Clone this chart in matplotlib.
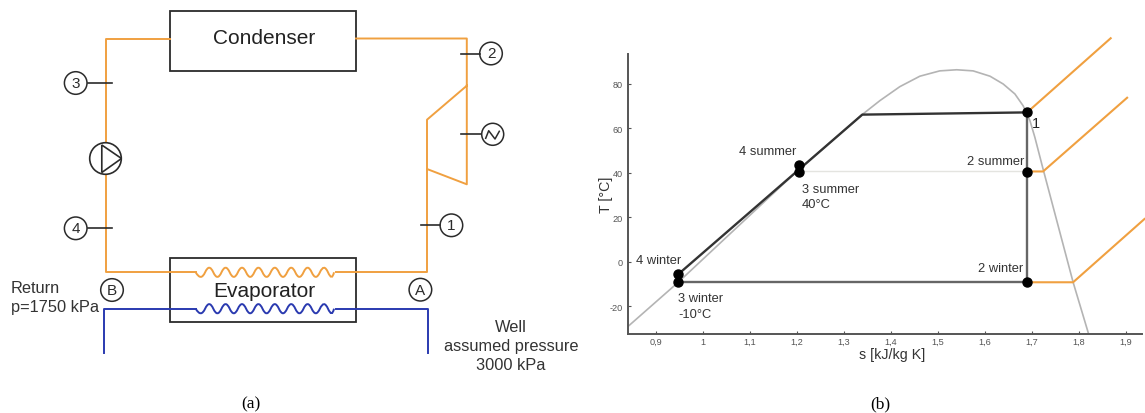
import matplotlib
matplotlib.use('Agg')
import matplotlib.pyplot as plt
from matplotlib.patches import Rectangle, Circle, Polygon, PathPatch
from matplotlib.path import Path

plt.rcParams['font.family'] = ['Liberation Sans', 'DejaVu Sans']
plt.rcParams['axes.unicode_minus'] = False

ORANGE = '#f0a040'
BLUE = '#2a3ab0'
DARK = '#2b2b2b'
GREY = '#b4b4b4'

# T-s diagram
sat_s = [0.84, 0.947, 1.205, 1.3375, 1.3765, 1.419, 1.4616, 1.504, 1.54, 1.575, 1.611, 1.639, 1.664, 1.6815, 1.696, 1.7065, 1.724, 1.788, 1.821]
sat_T = [-29.2, -9.3, 41.7, 66, 72.5, 78.8, 83.5, 85.9, 86.4, 85.9, 83.5, 80, 75.5, 70.2, 63.5, 56, 41.7, -9.3, -32.6]
cycle_s = [0.947, 1.339, 1.69, 1.69, 0.947]
cycle_T = [-5.7, 66.2, 67.2, -9.3, -9.3]
summer_s = [1.205, 1.69]
summer_T = [40.6, 40.6]
point_s = [1.69, 1.69, 1.69, 1.204, 1.205, 0.947, 0.947]
point_T = [67.2, 40.2, -9.3, 43.5, 40.2, -5.7, -9.3]
sup1_s = [1.69, 1.868]
sup1_T = [67.2, 100.6]
sup2_s = [1.69, 1.724, 1.903]
sup2_T = [40.6, 40.6, 73.8]
sup3_s = [1.69, 1.788, 1.94]
sup3_T = [-9.3, -9.3, 19.2]
xticks = [0.9, 1, 1.1, 1.2, 1.3, 1.4, 1.5, 1.6, 1.7, 1.8, 1.9]
xlabels = ['0,9', '1', '1,1', '1,2', '1,3', '1,4', '1,5', '1,6', '1,7', '1,8', '1,9']
yticks = [-20, 0, 20, 40, 60, 80]

# schematic, in picture pixels
loop_x = [170, 105.7, 105.7, 196]
loop_y = [39.5, 39.5, 273.3, 273.3]
right_x = [356, 466.8, 466.8, 427, 427, 466.8, 466.8]
right_y = [39.5, 39.5, 86.7, 120.7, 170, 185.3, 86.7]
lower_x = [427, 427, 336]
lower_y = [170, 273.3, 273.3]
well_left_x = [104, 104, 196]
well_left_y = [353.5, 309.7, 309.7]
well_right_x = [336, 427.5, 427.5]
well_right_y = [309.7, 309.7, 353.5]
coil_x = [201, 209.2, 217.4, 225.6, 233.8, 242, 250.2, 258.4, 266.6, 274.8, 283, 291.2, 299.4, 307.6, 315.8, 324, 332]
coil_side = [1, -1, 1, -1, 1, -1, 1, -1, 1, -1, 1, -1, 1, -1, 1, -1, 1]
tag_names = ['3', '4', '2', '1', 'B', 'A']
tag_x = [75.7, 75.7, 491, 451.4, 112, 420.4]
tag_y = [84, 229.3, 54.5, 226.3, 291, 290.7]
stub_x0 = [87.5, 87.5, 460.5, 421.4, 461]
stub_x1 = [111.8, 111.8, 480, 440, 481]
stub_y = [84, 229.3, 54.5, 226.3, 135.3]
sine_x = [485.7, 488.7, 495, 499.3]
sine_y = [139.3, 131.7, 140, 132.3]


def coil(ax, y, color):
    # wavy heat exchanger line, quadratic pieces through the baseline
    verts = [(195.7, y)]
    codes = [Path.MOVETO]
    for i, (x, sd) in enumerate(zip(coil_x, coil_side)):
        nx = coil_x[i + 1] if i + 1 < len(coil_x) else 336
        verts += [(x, y + sd * 9.2), ((x + nx) / 2, y)]
        codes += [Path.CURVE3, Path.CURVE3]
    ax.add_patch(PathPatch(Path(verts, codes), fc='none', ec=color, lw=1.4))


fig = plt.figure(figsize=(11.45, 4.14), dpi=100)

# full figure axes for the schematic, pixel scale
d = fig.add_axes([0, 0, 1, 1])
d.set_xlim(0, 1145)
d.set_ylim(414, 0)
d.axis('off')
d.add_patch(Rectangle((170, 12), 186, 60.3, fc='none', ec=DARK, lw=1.3))
d.add_patch(Rectangle((170, 258.7), 186, 64.6, fc='none', ec=DARK, lw=1.3))
d.plot(loop_x, loop_y, color=ORANGE, lw=1.4)
d.plot(right_x, right_y, color=ORANGE, lw=1.4)
d.plot(lower_x, lower_y, color=ORANGE, lw=1.4)
coil(d, 273.3, ORANGE)
d.plot(well_left_x, well_left_y, color=BLUE, lw=1.4)
d.plot(well_right_x, well_right_y, color=BLUE, lw=1.4)
coil(d, 309.7, BLUE)

d.add_patch(Circle((105.5, 159.5), 15.8, fc='white', ec=DARK, lw=1.2, zorder=3))
d.add_patch(Polygon([(101.8, 146), (121.5, 159.5), (101.8, 173.5)], fc='none', ec=DARK, lw=1.2, zorder=3))

for n, x, y in zip(tag_names, tag_x, tag_y):
    d.add_patch(Circle((x, y), 11.3, fc='white', ec=DARK, lw=1.1))
    d.text(x, y, n, ha='center', va='center', fontsize=11, color=DARK)
for x0, x1, y in zip(stub_x0, stub_x1, stub_y):
    d.plot([x0, x1], [y, y], color=DARK, lw=1.2)
d.add_patch(Circle((492.7, 135.3), 11, fc='white', ec=DARK, lw=1.1))
d.plot(sine_x, sine_y, color=DARK, lw=1.1, solid_joinstyle='round')

d.text(264.6, 38, 'Condenser', ha='center', va='center', fontsize=15, color='#222222')
d.text(264.6, 292, 'Evaporator', ha='center', va='center', fontsize=15, color='#222222')
d.text(10.7, 289, 'Return', ha='left', va='center', fontsize=11.8, color='#333333')
d.text(10.7, 307.7, 'p=1750 kPa', ha='left', va='center', fontsize=11.8, color='#333333')
d.text(511, 328, 'Well', ha='center', va='center', fontsize=11.8, color='#333333')
d.text(511, 347, 'assumed pressure', ha='center', va='center', fontsize=11.8, color='#333333')
d.text(511, 366, '3000 kPa', ha='center', va='center', fontsize=11.8, color='#333333')
d.text(251, 404, '(a)', ha='center', va='center', fontsize=12.5, family='Liberation Serif')
d.text(880, 404, '(b)', ha='center', va='center', fontsize=12.5, family='Liberation Serif')

# T-s plot
ax = fig.add_axes([628 / 1145, 1 - 335 / 414, 514 / 1145, 280 / 414])
ax.patch.set_alpha(0)
ax.set_xlim(0.84, 1.9347)
ax.set_ylim(-32.6, 93.5)
ax.plot(sat_s, sat_T, color=GREY, lw=1.2)
ax.plot(summer_s, summer_T, color='#e4e4e0', lw=1)
ax.plot(sup1_s, sup1_T, color=ORANGE, lw=1.5, clip_on=False)
ax.plot(sup2_s, sup2_T, color=ORANGE, lw=1.5, clip_on=False)
ax.plot(sup3_s, sup3_T, color=ORANGE, lw=1.5, clip_on=False)
ax.plot(cycle_s[:3], cycle_T[:3], color='#333333', lw=1.7)
ax.plot(cycle_s[2:], cycle_T[2:], color='#666666', lw=1.7)
ax.plot(point_s, point_T, 'o', color='black', ms=6.5, ls='none')

ax.spines['top'].set_visible(False)
ax.spines['right'].set_visible(False)
ax.spines['left'].set_color('#555555')
ax.spines['bottom'].set_color('#555555')
ax.spines['left'].set_linewidth(1.4)
ax.spines['bottom'].set_linewidth(1.4)
ax.set_xticks(xticks, xlabels)
ax.set_yticks(yticks)
ax.tick_params(direction='in', labelsize=6.6, length=2, width=0.8, color='#555555', labelcolor='#555555')
ax.tick_params(axis='x', pad=2)
ax.tick_params(axis='y', pad=4)
ax.set_xlabel('s [kJ/kg K]', fontsize=10.3, color='#333333', labelpad=1, x=0.513)
ax.set_ylabel('T [°C]', fontsize=10.2, color='#333333', labelpad=-3)

fs = 9.3
ax.text(1.7, 62.5, '1', fontsize=10.5, color='#222222', ha='left', va='center')
ax.text(1.685, 45.5, '2 summer', fontsize=fs, color='#333333', ha='right', va='center')
ax.text(1.682, -3, '2 winter', fontsize=fs, color='#333333', ha='right', va='center')
ax.text(1.076, 50, '4 summer', fontsize=fs, color='#333333', ha='left', va='center')
ax.text(1.21, 32.5, '3 summer', fontsize=fs, color='#333333', ha='left', va='center')
ax.text(1.21, 26, '40°C', fontsize=fs, color='#333333', ha='left', va='center')
ax.text(0.857, 0.7, '4 winter', fontsize=fs, color='#333333', ha='left', va='center')
ax.text(0.947, -16.5, '3 winter', fontsize=fs, color='#333333', ha='left', va='center')
ax.text(0.947, -23.5, '-10°C', fontsize=fs, color='#333333', ha='left', va='center')

fig.savefig('out.png', dpi=100)
